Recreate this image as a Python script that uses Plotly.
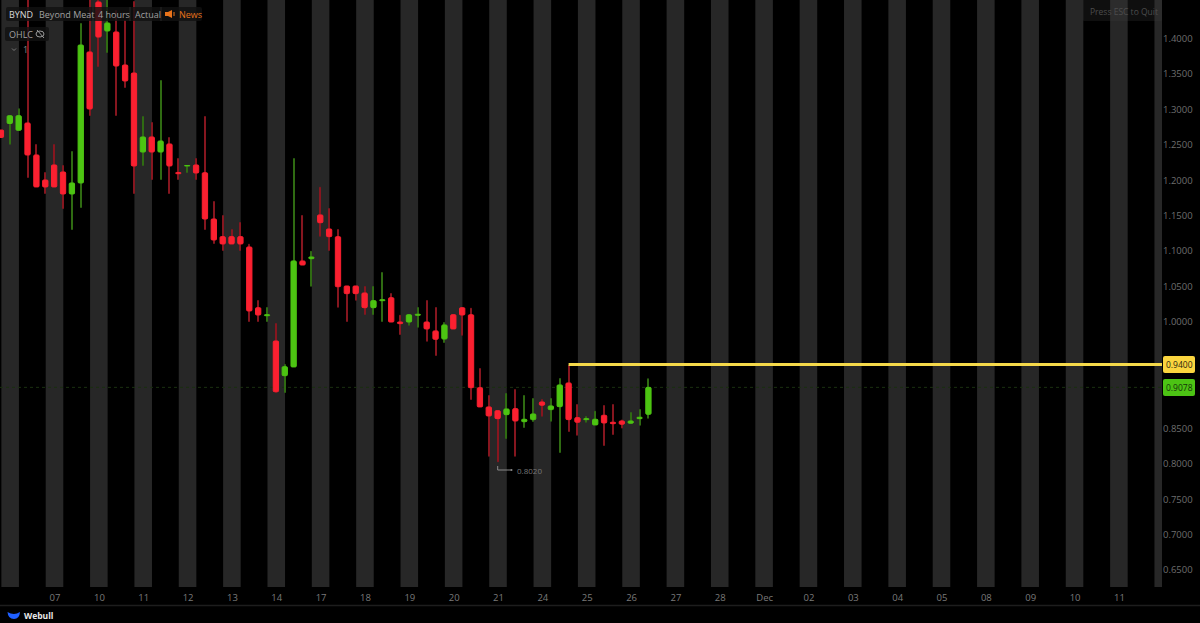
import numpy as np
import plotly.graph_objects as go

# BYND 4 hour candles
opens = [1.2708,1.2800,1.2704,1.2807,1.2356,1.2003,1.2215,1.2116,1.1806,1.1961,1.3809,1.4514,1.4105,1.4091,1.3625,1.3512,1.2398,1.2610,1.2398,1.2511,
         1.2109,1.2201,1.2215,1.2106,1.1453,1.1204,1.1204,1.1204,1.1058,1.0202,1.0089,0.9732,0.9243,0.9366,1.0861,1.0893,1.1510,1.1312,1.1204,1.0508,
         1.0508,1.0409,1.0202,1.0301,1.0343,1.0000,1.0000,1.0095,1.0000,0.9874,0.9760,1.0103,1.0202,1.0103,0.9074,0.8802,0.8749,0.8693,0.8778,0.8594,
         0.8623,0.8872,0.8764,0.8806,0.9140,0.8651,0.8623,0.8548,0.8684,0.8586,0.8604,0.8572,0.8637,0.8698]
closes = [1.2603,1.2910,1.2910,1.2356,1.1905,1.1905,1.1905,1.1806,1.1961,1.3907,1.3005,1.4020,1.4218,1.3611,1.3400,1.2201,1.2610,1.2398,1.2553,1.2201,
          1.2092,1.2208,1.2102,1.1453,1.1157,1.1101,1.1101,1.1101,1.0156,1.0099,1.0103,0.9017,0.9370,1.0861,1.0804,1.0917,1.1401,1.1204,1.0498,1.0400,
          1.0400,1.0202,1.0301,1.0315,1.0000,0.9977,1.0103,1.0109,0.9902,0.9756,0.9958,0.9902,1.0099,0.9074,0.8802,0.8675,0.8637,0.8773,0.8604,0.8628,
          0.8703,0.8826,0.8816,0.9112,0.8623,0.8586,0.8637,0.8628,0.8576,0.8566,0.8558,0.8604,0.8656,0.9078]
highs = [1.2708,1.2910,1.3015,1.4600,1.2511,1.2116,1.2511,1.2215,1.2412,1.4218,1.4600,1.4700,1.4600,1.4400,1.4260,1.4528,1.2906,1.2821,1.3414,1.2610,
         1.2314,1.2208,1.2314,1.2906,1.1707,1.1510,1.1312,1.1411,1.1105,1.0311,1.0212,0.9986,0.9408,1.2314,1.1510,1.1006,1.1909,1.1608,1.1312,1.0508,
         1.0508,1.0508,1.0508,1.0706,1.0409,1.0103,1.0103,1.0212,1.0311,1.0212,1.0000,1.0103,1.0202,1.0202,0.9352,0.8971,0.8749,0.8999,0.9055,0.8971,
         0.8929,0.8913,0.8927,0.9211,0.9398,0.8844,0.8675,0.8749,0.8830,0.8844,0.8623,0.8731,0.8773,0.9206]
lows = [1.2603,1.2501,1.2704,1.2031,1.1905,1.1806,1.1905,1.1594,1.1298,1.1608,1.2906,1.3597,1.3794,1.2906,1.3301,1.1806,1.2201,1.2003,1.2003,1.1806,
        1.2003,1.2102,1.2003,1.1298,1.1101,1.1002,1.1101,1.1002,1.0000,1.0000,1.0000,0.8999,0.8999,0.9366,1.0804,1.0498,1.1204,1.1002,1.0202,1.0000,
        1.0301,1.0099,1.0099,1.0000,1.0000,0.9817,0.9948,0.9920,0.9723,0.9521,0.9704,0.9902,0.9807,0.8900,0.8802,0.8101,0.8020,0.8350,0.8101,0.8505,
        0.8590,0.8665,0.8594,0.8153,0.8449,0.8397,0.8580,0.8548,0.8252,0.8407,0.8496,0.8572,0.8538,0.8637]

day_labels = ["07","10","11","12","13","14","17","18","19","20","21","24","25","26","27","28","Dec","02","03","04","05","08","09","10","11"]
# 0.95 and 0.90 sit behind the two price tags
price_ticks = [1.45,1.40,1.35,1.30,1.25,1.20,1.15,1.10,1.05,1.00,0.85,0.80,0.75,0.70,0.65]
alert_price = 0.94
last_price = 0.9078
low_label = "0.8020"

W, H = 1200, 623
PW, PH = 1162, 587

def px(x):
    return x / PW

def py(y):
    return 1 - y / PH

def rrect(x0, y0, x1, y1, r):
    return (f"M {px(x0+r)} {py(y0)} L {px(x1-r)} {py(y0)} Q {px(x1)} {py(y0)} {px(x1)} {py(y0+r)} "
            f"L {px(x1)} {py(y1-r)} Q {px(x1)} {py(y1)} {px(x1-r)} {py(y1)} L {px(x0+r)} {py(y1)} "
            f"Q {px(x0)} {py(y1)} {px(x0)} {py(y1-r)} L {px(x0)} {py(y0+r)} Q {px(x0)} {py(y0)} {px(x0+r)} {py(y0)} Z")

def pshape(path, fill, line=None, w=0):
    return dict(type="path", xref="paper", yref="paper", path=path, fillcolor=fill,
                line=dict(color=line or fill, width=w), layer="above")

def pline(pts, color, w=1):
    p = "M " + " L ".join(f"{px(a)} {py(b)}" for a, b in pts)
    return dict(type="path", xref="paper", yref="paper", path=p, line=dict(color=color, width=w), layer="above")

def label(x, y, text, color, size=9, anchor="left"):
    return dict(x=px(x), y=py(y), xref="paper", yref="paper", text=text, showarrow=False, xanchor=anchor,
                yanchor="middle", borderpad=0, font=dict(family="Open Sans", size=size, color=color))

o = np.array(opens)
c = np.array(closes)
h = np.array(highs)
l = np.array(lows)
idx = np.arange(len(o))
up = c >= o

fig = go.Figure()
fig.add_trace(go.Bar(x=idx, y=h - l, base=l, width=0.12,
                     marker=dict(color=np.where(up, "#2f6b12", "#86161f"), line=dict(width=0))))
body_col = np.where(up, "#4cc412", "#fb2030")
fig.add_trace(go.Bar(x=idx, y=np.abs(c - o), base=np.minimum(o, c), width=0.6,
                     marker=dict(color=body_col, line=dict(color=body_col, width=1))))
# alert level starts at the candle that touched it
fig.add_trace(go.Scatter(x=[64, 131], y=[alert_price, alert_price], mode="lines",
                         line=dict(color="#f5d94a", width=3)))

shapes = []
# grey bands, two candles out of every five
for k in range(0, 135, 5):
    shapes.append(dict(type="rect", xref="x", yref="paper", x0=k + 0.05, x1=k + 2.03, y0=0, y1=1,
                       fillcolor="#272727", line=dict(width=0), layer="below"))
shapes.append(dict(type="line", xref="paper", yref="y", x0=0, x1=1, y0=last_price, y1=last_price,
                   line=dict(color="#1a3010", width=1, dash="dot"), layer="below"))

# header boxes
shapes.append(pshape(rrect(6, 7, 202, 21, 2), "rgba(18,18,18,0.8)"))
shapes.append(pshape(rrect(5, 27, 49, 41, 2), "rgba(18,18,18,0.8)"))
shapes.append(pshape(rrect(1083, -2, 1162, 21, 1), "rgba(60,60,60,0.25)"))
for sx in (93, 130, 161):
    shapes.append(pline([(sx, 7), (sx, 21)], "#262626"))
# speaker icon
shapes.append(pshape(f"M {px(165)} {py(12)} L {px(168)} {py(12)} L {px(172)} {py(10)} L {px(172)} {py(18)} "
                     f"L {px(168)} {py(16)} L {px(165)} {py(16)} Z", "#e8731a"))
shapes.append(pline([(174, 12), (174, 16)], "#e8731a"))
# eye with a stroke through it
shapes.append(dict(type="circle", xref="paper", yref="paper", x0=px(36), x1=px(44), y0=py(37), y1=py(31),
                   line=dict(color="#9a9a9a", width=1), layer="above"))
shapes.append(pline([(37, 30), (44, 38)], "#9a9a9a"))
# chevron
shapes.append(pline([(12, 48.5), (14, 50.5), (16, 48.5)], "#777777"))
# low marker
shapes.append(pline([(497.7, 466), (497.7, 470), (511, 470)], "#8a8a8a"))
shapes.append(dict(type="circle", xref="paper", yref="paper", x0=px(510.5), x1=px(512.5), y0=py(471), y1=py(469),
                   fillcolor="#8a8a8a", line=dict(width=0), layer="above"))
# price tags
shapes.append(pshape(rrect(1163, 356, 1195, 373, 2), "#fbd53f"))
shapes.append(pshape(rrect(1163, 379, 1195, 396, 2), "#4cc314"))
# footer line and logo
shapes.append(pline([(0, 605.5), (1200, 605.5)], "#1d1d1d", 1.5))
shapes.append(pshape(f"M {px(7.5)} {py(612)} Q {px(14)} {py(616)} {px(20)} {py(612)} "
                     f"Q {px(19.5)} {py(619)} {px(14)} {py(619)} Q {px(8)} {py(619)} {px(7.5)} {py(612)} Z", "#1f5fff"))

annotations = [
    label(8, 14, "BYND", "#d8d8d8"),
    label(38, 14, "Beyond Meat", "#a0a0a0"),
    label(97, 14, "4 hours", "#a0a0a0"),
    label(134, 14, "Actual", "#a0a0a0"),
    label(178, 14, "News", "#e8731a"),
    label(8, 34, "OHLC", "#a0a0a0"),
    label(22, 50, "1", "#8a8a8a"),
    label(1089, 11, "Press ESC to Quit", "#4c4c4c", 8.5),
    label(516, 470, low_label, "#777777", 8),
    label(1165, 364.5, f"{alert_price:.4f}", "#2a2410", 8.5),
    label(1165, 387.5, f"{last_price:.4f}", "#14330a", 8.5),
    label(23, 615, "<b>Webull</b>", "#e8e8e8", 8.5),
]

fig.update_layout(
    width=W, height=H,
    margin=dict(l=0, r=W - PW, t=0, b=H - PH, pad=0),
    paper_bgcolor="#000000", plot_bgcolor="#000000",
    barmode="overlay", showlegend=False, barcornerradius=1,
    shapes=shapes, annotations=annotations,
    xaxis=dict(range=[-0.105, 130.9], tickmode="array",
               tickvals=[6.1 + 5 * k for k in range(len(day_labels))], ticktext=day_labels,
               showgrid=False, zeroline=False, showline=False, ticks="outside", ticklen=2, tickcolor="rgba(0,0,0,0)",
               tickfont=dict(family="Open Sans", size=9.5, color="#7a7a7a")),
    yaxis=dict(range=[0.6262, 1.4542], side="right", tickmode="array", tickvals=price_ticks,
               ticktext=[f"{v:.4f}" for v in price_ticks], showgrid=False, zeroline=False, showline=False,
               tickfont=dict(family="Open Sans", size=9.5, color="#6e6e6e")),
)

# page has a default body margin that would shift the chart
fig.write_html("out.html", config=dict(displayModeBar=False),
               post_script="document.body.style.margin='0';document.documentElement.style.overflow='hidden';")
